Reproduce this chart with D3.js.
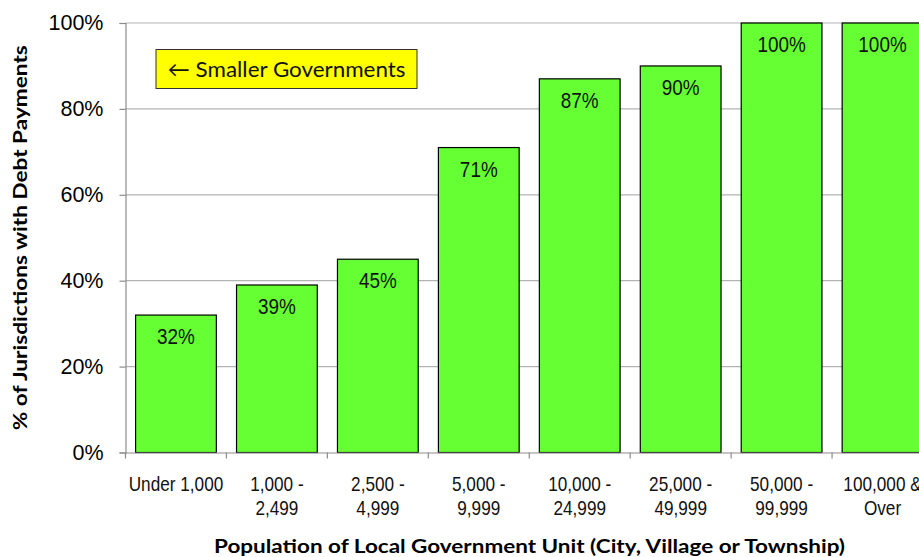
<!DOCTYPE html>
<html>
<head>
<meta charset="utf-8">
<script src="https://cdn.jsdelivr.net/npm/d3@7"></script>
<style>
  html, body { margin: 0; padding: 0; background: #fff; }
  svg { display: block; }
  .narrow { font-family: "Liberation Sans", Arial, sans-serif; }
  .title { font-family: Lato, "Open Sans", sans-serif; font-weight: bold; }
</style>
</head>
<body>
<svg id="chart" width="919" height="557"></svg>
<script>
// Share of jurisdictions making debt payments, by population size class
const categories = [
  ["Under 1,000"],
  ["1,000 -", "2,499"],
  ["2,500 -", "4,999"],
  ["5,000 -", "9,999"],
  ["10,000 -", "24,999"],
  ["25,000 -", "49,999"],
  ["50,000 -", "99,999"],
  ["100,000 &", "Over"]
];
const values = [32, 39, 45, 71, 87, 90, 100, 100];
const yTicks = [0, 20, 40, 60, 80, 100];

const svg = d3.select("#chart");
const plot = { left: 125.5, right: 933, top: 23, bottom: 452.5 };
const narrowScale = 0.86; // horizontal squeeze for condensed labels

const keys = categories.map(c => c.join(" "));
const x = d3.scaleBand().domain(keys).range([plot.left, plot.right])
  .paddingInner(0.2).paddingOuter(0.1);
const y = d3.scaleLinear().domain([0, 100]).range([plot.bottom, plot.top]);

// gridlines
svg.append("g").selectAll("line").data(yTicks.filter(t => t > 0)).join("line")
  .attr("x1", plot.left).attr("x2", 919)
  .attr("y1", d => y(d)).attr("y2", d => y(d))
  .attr("stroke", "#b3b3b3").attr("stroke-width", 1.2);

// y axis
const yAxis = svg.append("g").attr("transform", `translate(${plot.left},0)`)
  .call(d3.axisLeft(y).tickValues(yTicks).tickFormat(d => d + "%").tickSize(6).tickPadding(16));
yAxis.select(".domain").attr("stroke", "#8c8c8c").attr("stroke-width", 1.2);
yAxis.selectAll(".tick line").attr("stroke", "#8c8c8c").attr("stroke-width", 1.2);
yAxis.selectAll(".tick text")
  .attr("font-family", "'Liberation Sans', Arial, sans-serif")
  .attr("font-size", 21.5).attr("fill", "#000");

// bars
svg.append("g").selectAll("rect").data(values).join("rect")
  .attr("x", (d, i) => x(keys[i]))
  .attr("y", d => y(d))
  .attr("width", x.bandwidth())
  .attr("height", d => y(0) - y(d))
  .attr("fill", "#66ff33")
  .attr("stroke", "#000").attr("stroke-width", 1.2);

// value labels
svg.append("g").selectAll("text").data(values).join("text")
  .attr("class", "narrow")
  .attr("transform", (d, i) =>
    `translate(${x(keys[i]) + x.bandwidth() / 2},${y(d) + 29}) scale(${narrowScale},1)`)
  .attr("text-anchor", "middle")
  .attr("font-size", 22).attr("fill", "#111")
  .text(d => d + "%");

// x axis
const xAxis = svg.append("g").attr("transform", `translate(0,${plot.bottom})`)
  .call(d3.axisBottom(x).tickSize(0).tickFormat(""));
xAxis.select(".domain").attr("stroke", "#8c8c8c").attr("stroke-width", 1.2);

// category boundary ticks
const bounds = keys.map(k => x(k) - x.step() * x.paddingInner() / 2);
svg.append("g").selectAll("line").data(bounds).join("line")
  .attr("x1", d => d).attr("x2", d => d)
  .attr("y1", plot.bottom).attr("y2", plot.bottom + 6)
  .attr("stroke", "#8c8c8c").attr("stroke-width", 1.2);

// category labels
const catLabels = svg.append("g").selectAll("text").data(categories).join("text")
  .attr("class", "narrow")
  .attr("text-anchor", "middle")
  .attr("font-size", 20).attr("fill", "#111")
  .attr("transform", (d, i) =>
    `translate(${x(keys[i]) + x.bandwidth() / 2},${plot.bottom + 38.5}) scale(${narrowScale},1)`);
catLabels.selectAll("tspan").data(d => d).join("tspan")
  .attr("x", 0).attr("dy", (d, i) => i === 0 ? 0 : 24.5)
  .text(d => d);

// axis titles
svg.append("text").attr("class", "title")
  .attr("transform", `translate(27,${(plot.top + plot.bottom) / 2}) rotate(-90)`)
  .attr("text-anchor", "middle").attr("font-size", 18.5)
  .attr("textLength", 385).attr("lengthAdjust", "spacingAndGlyphs")
  .text("% of Jurisdictions with Debt Payments");

svg.append("text").attr("class", "title")
  .attr("x", 529.5).attr("y", 553)
  .attr("text-anchor", "middle").attr("font-size", 19)
  .attr("textLength", 631).attr("lengthAdjust", "spacingAndGlyphs")
  .text("Population of Local Government Unit (City, Village or Township)");

// annotation box
const note = svg.append("g").attr("transform", "translate(156,49.5)");
note.append("rect").attr("width", 261).attr("height", 39)
  .attr("fill", "#ffff00").attr("stroke", "#333").attr("stroke-width", 1);
note.append("text").attr("x", 130.5).attr("y", 27.5)
  .attr("text-anchor", "middle").attr("font-family", "Lato, 'Open Sans', sans-serif")
  .attr("font-size", 21.5).attr("fill", "#111")
  .attr("textLength", 238).attr("lengthAdjust", "spacingAndGlyphs")
  .text("\u2190 Smaller Governments");
</script>
</body>
</html>
